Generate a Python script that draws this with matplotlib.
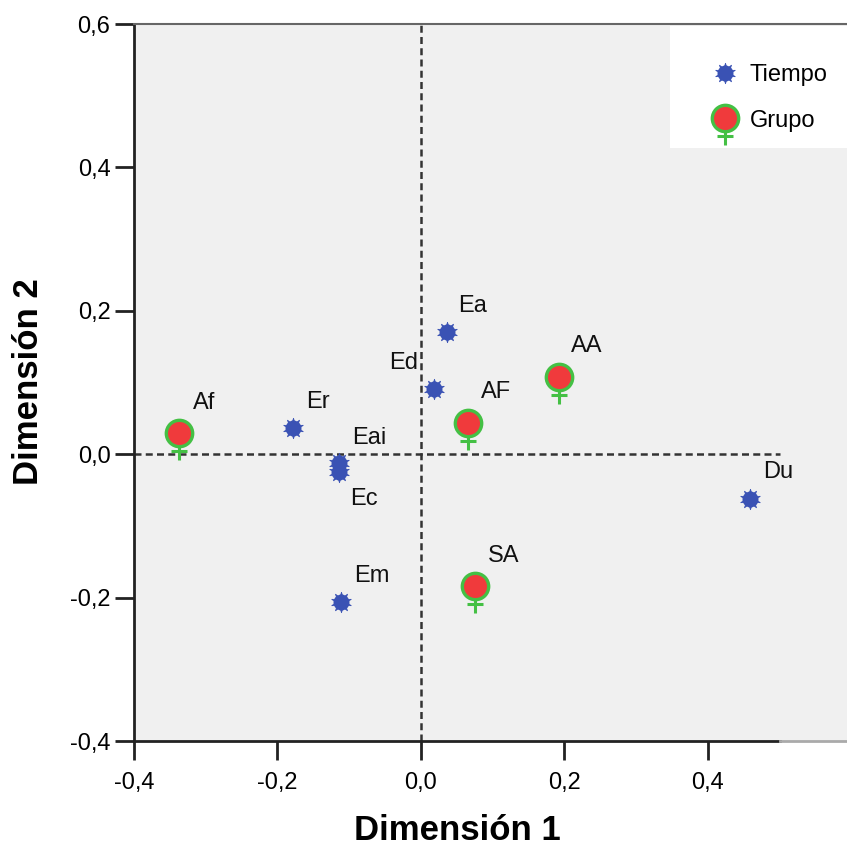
import numpy as np
import matplotlib.pyplot as plt
from matplotlib.path import Path
from matplotlib.patches import Rectangle
from matplotlib.legend_handler import HandlerTuple
from matplotlib.ticker import FuncFormatter

# Tiempo points
tiempo_labels = ["Ea", "Ed", "Er", "Eai", "Ec", "Em", "Du"]
tiempo_x = [0.036, 0.018, -0.178, -0.114, -0.114, -0.111, 0.459]
tiempo_y = [0.170, 0.091, 0.036, -0.012, -0.025, -0.206, -0.062]

# Grupo points
grupo_labels = ["Af", "AF", "AA", "SA"]
grupo_x = [-0.337, 0.066, 0.192, 0.076]
grupo_y = [0.029, 0.044, 0.108, -0.184]

# label offsets in points (left edge, vertical centre)
tiempo_off = [(8, 19), (-32, 19), (9, 19), (9, 18), (8, -19), (9, 19), (9, 19)]
grupo_off = [(10, 22), (9, 22), (9, 22), (9, 22)]

xticks = [-0.4, -0.2, 0.0, 0.2, 0.4]
yticks = [-0.4, -0.2, 0.0, 0.2, 0.4, 0.6]

plt.rcParams["font.family"] = ["Liberation Sans", "DejaVu Sans"]

BLUE = "#3a52b4"
RED = "#f03a3c"
GREEN = "#44c044"

fig = plt.figure(figsize=(8.47, 8.47), dpi=100)
ax = fig.add_axes([134 / 847, 1 - 741 / 847, 713 / 847, 717 / 847])
ax.set_facecolor("#f0f0f0")
ax.set_xlim(-0.4, 0.594)
ax.set_ylim(-0.4, 0.6)

# reference lines
ax.plot([-0.4, 0.5], [0, 0], ls=(0, (2.8, 1.7)), color="#333333", lw=1.8, zorder=1)
ax.axvline(0, ls=(0, (2.8, 1.7)), color="#333333", lw=1.8, zorder=1)

# female-sign stem marker
stem = Path([(0, -0.5), (0, -1.0), (-0.28, -0.67), (0.28, -0.67)],
            [Path.MOVETO, Path.LINETO, Path.MOVETO, Path.LINETO])

ax.plot(tiempo_x, tiempo_y, ls="none", marker="o", ms=11.5, color=BLUE, mew=0, zorder=3)
ax.plot(tiempo_x, tiempo_y, ls="none", marker=(10, 1, 0), ms=15, color=BLUE,
        mew=0.5, zorder=3)
ax.plot(grupo_x, grupo_y, ls="none", marker=stem, ms=39, mew=2.2,
        color=GREEN, zorder=3)
ax.plot(grupo_x, grupo_y, ls="none", marker="o", ms=19, mfc=RED,
        mec=GREEN, mew=2.4, zorder=4)

for lab, x, y, off in zip(tiempo_labels, tiempo_x, tiempo_y, tiempo_off):
    ax.annotate(lab, (x, y), xytext=off, textcoords="offset points",
                ha="left", va="center", fontsize=17, color="#111111")
for lab, x, y, off in zip(grupo_labels, grupo_x, grupo_y, grupo_off):
    ax.annotate(lab, (x, y), xytext=off, textcoords="offset points",
                ha="left", va="center", fontsize=17, color="#111111")

# legend box + legend
ax.add_patch(Rectangle(((670 - 134) / 713, (741 - 148) / 717), 1, (148 - 26) / 717,
                       transform=ax.transAxes, facecolor="white",
                       edgecolor="none", zorder=2))
h1a, = ax.plot([], [], ls="none", marker="o", ms=11.5, color=BLUE, mew=0)
h1b, = ax.plot([], [], ls="none", marker=(10, 1, 0), ms=15, color=BLUE, mew=0.5)
h2a, = ax.plot([], [], ls="none", marker=stem, ms=39, mew=2.2, color=GREEN)
h2b, = ax.plot([], [], ls="none", marker="o", ms=19, mfc=RED, mec=GREEN, mew=2.4)
leg = ax.legend([(h1a, h1b), (h2a, h2b)], ["Tiempo", "Grupo"],
                handler_map={tuple: HandlerTuple(ndivide=1)},
                loc="upper left",
                bbox_to_anchor=((712 - 134) / 713, 1 - (64 - 24) / 717),
                fontsize=17, frameon=False, borderpad=0, borderaxespad=0,
                handlelength=1.1, handletextpad=0.5, labelspacing=1.0)
leg.set_zorder(6)

ax.set_xticks(xticks)
ax.set_yticks(yticks)
fmt = FuncFormatter(lambda v, p: f"{v:.1f}".replace(".", ","))
ax.xaxis.set_major_formatter(fmt)
ax.yaxis.set_major_formatter(fmt)
ax.tick_params(length=14, width=2, labelsize=17, color="#222222")
ax.tick_params(axis="x", pad=8)
ax.tick_params(axis="y", pad=3)

ax.spines["right"].set_visible(False)
ax.spines["top"].set_color("#666666")
ax.spines["top"].set_linewidth(1.5)
ax.spines["left"].set_color("#222222")
ax.spines["left"].set_linewidth(2)
ax.spines["bottom"].set_color("#222222")
ax.spines["bottom"].set_linewidth(2)
ax.spines["bottom"].set_bounds(-0.4, 0.5)
ax.plot([0.5, 0.594], [-0.4, -0.4], color="#aaaaaa", lw=2, clip_on=False, zorder=5)

fig.text(457 / 847, 1 - 840 / 847, "Dimensión 1", fontsize=25, fontweight="bold",
         ha="center", va="baseline")
fig.text(38 / 847, 1 - 382 / 847, "Dimensión 2", fontsize=25, fontweight="bold",
         ha="center", va="baseline", rotation=90, rotation_mode="anchor")

fig.savefig("out.png", dpi=100)
